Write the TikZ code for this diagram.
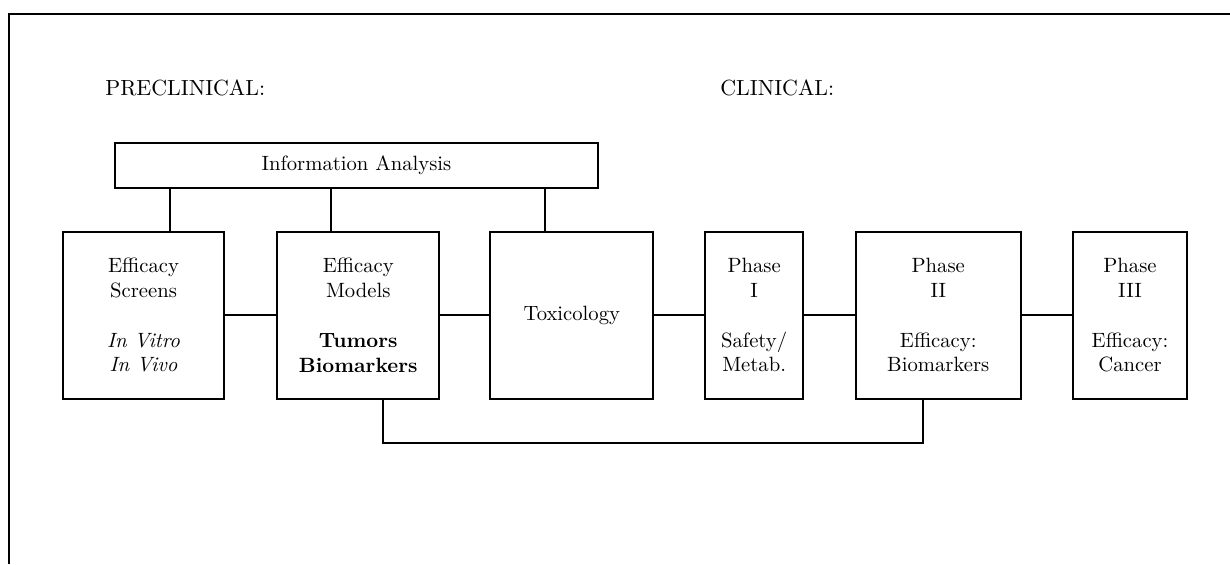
\documentclass[tikz,border=0pt]{standalone}
\usepackage{tikz}
\usetikzlibrary{positioning}

\begin{document}
\begin{tikzpicture}[
    stage/.style={draw, line width=0.9pt, minimum height=2.84cm, inner sep=0pt, align=center, font=\normalsize},
    infobar/.style={draw, line width=0.9pt, minimum width=8.21cm, minimum height=0.77cm, inner sep=0pt},
    heading/.style={anchor=west, inner sep=0pt, font=\fontsize{10.6}{13}\selectfont},
    link/.style={line width=0.9pt},
]

% === Canvas and frame ===
\useasboundingbox (0,0) rectangle (20.91,-9.588);
\draw[line width=0.8pt] (0.153,-9.588) -- (0.153,-0.238) -- (20.91,-0.238);

% === Headings ===
\node[heading] (pre) at (1.785,-1.5) {PRECLINICAL:};
\node[heading] (cli) at (12.24,-1.5) {CLINICAL:};

% === Information analysis ===
\node[infobar] (info) at (6.06,-2.81) {Information Analysis};

% === Stages ===
\node[stage, minimum width=2.74cm] (screens) at (2.44,-5.36)
    {Efficacy\\Screens\\[12pt]\textit{In Vitro}\\\textit{In Vivo}};
\node[stage, minimum width=2.75cm] (models) at (6.09,-5.36)
    {Efficacy\\Models\\[12pt]\textbf{Tumors}\\\textbf{Biomarkers}};
\node[stage, minimum width=2.77cm] (tox) at (9.72,-5.36) {Toxicology};
\node[stage, minimum width=1.67cm] (ph1) at (12.82,-5.36)
    {Phase\\I\\[12pt]Safety/\\Metab.};
\node[stage, minimum width=2.81cm] (ph2) at (15.95,-5.36)
    {Phase\\II\\[12pt]Efficacy:\\Biomarkers};
\node[stage, minimum width=1.94cm] (ph3) at (19.21,-5.36)
    {Phase\\III\\[12pt]Efficacy:\\Cancer};

% === Links to information analysis ===
\draw[link] ([xshift=13pt]screens.north) -- ([xshift=13pt]screens.north |- info.south);
\draw[link] ([xshift=-13pt]models.north) -- ([xshift=-13pt]models.north |- info.south);
\draw[link] ([xshift=-13pt]tox.north) -- ([xshift=-13pt]tox.north |- info.south);

% === Chain ===
\draw[link] (screens) -- (models);
\draw[link] (models) -- (tox);
\draw[link] (tox) -- (ph1);
\draw[link] (ph1) -- (ph2);
\draw[link] (ph2) -- (ph3);

% Feedback from Phase II to the models
\draw[link] ([xshift=12pt]models.south) -- ++(0,-0.73) -| ([xshift=-7.5pt]ph2.south);

\end{tikzpicture}
\end{document}
